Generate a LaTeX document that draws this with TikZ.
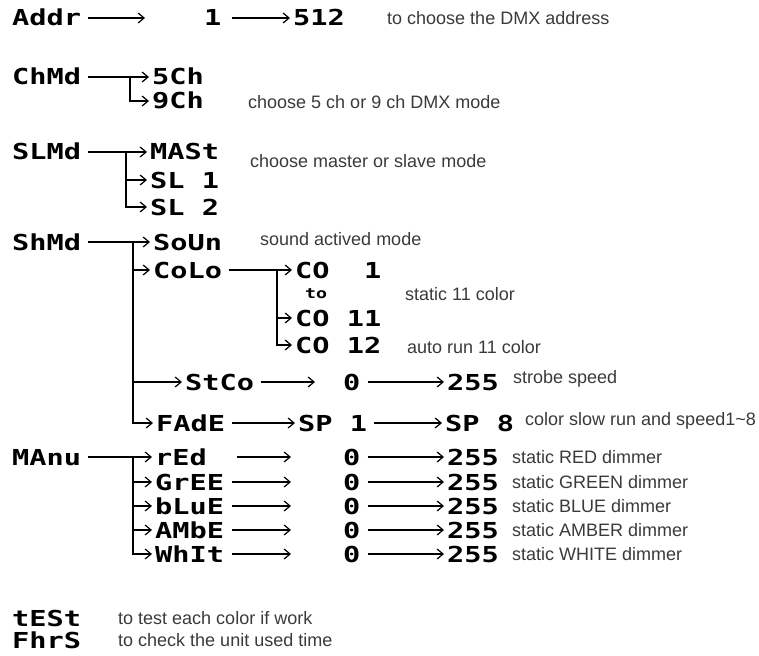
\documentclass[tikz,border=0pt]{standalone}
\usepackage{fontspec}
\setmainfont{Liberation Sans}
\newfontfamily\segfont[FakeStretch=1.3]{DejaVu Sans Mono}
\usetikzlibrary{arrows.meta}
\definecolor{descgray}{HTML}{3A3A3A}
\begin{document}
\begin{tikzpicture}[x=1pt,y=-1pt,
  seg/.style={font=\segfont\bfseries\fontsize{22}{22}\selectfont, inner sep=0pt, text height=16pt, text depth=0pt, anchor=west},
  small/.style={font=\segfont\bfseries\fontsize{14}{14}\selectfont, inner sep=0pt, anchor=west},
  desc/.style={font=\fontsize{18}{18}\selectfont, text=descgray, inner sep=0pt, anchor=west},
  arr/.style={-{Straight Barb[length=6pt,width=10pt]}, line width=1.2pt, shorten <=7pt, shorten >=3pt},
  arrb/.style={arr, shorten <=0pt}]
\useasboundingbox (0,0) rectangle (759,655);

% Addr
\node[seg] (addr) at (12,18) {Addr};
\coordinate (addrin) at (148,18);
\node[seg] (a1) at (204,18) {1};
\node[seg] (a512) at (293,18) {512};
\node[desc] (addrtxt) at (387,18) {to choose the DMX address};
\draw[arr] (addr.east) -- (addrin);
\draw[arr, shorten <=10pt] (a1.east) -- (a512.west);

% ChMd
\node[seg] (chmd) at (12,77) {ChMd};
\node[seg] (c5) at (152,77) {5Ch};
\node[seg] (c9) at (152,101) {9Ch};
\coordinate (chb) at (130,77);
\draw[arr] (chmd.east) -- (c5.west);
\draw[arrb] (chb) |- (c9.west);
\node[desc] (chtxt) at (248,102) {choose 5 ch or 9 ch DMX mode};

% SLMd
\node[seg] (slmd) at (12,152) {SLMd};
\node[seg] (mast) at (150,152) {MASt};
\node[seg] (sl1) at (150,180) {SL\hphantom{0}1};
\node[seg] (sl2) at (150,207) {SL\hphantom{0}2};
\coordinate (slb) at (126,152);
\draw[arr] (slmd.east) -- (mast.west);
\draw[arrb] (slb) |- (sl1.west);
\draw[arrb] (slb) |- (sl2.west);
\node[desc] (sltxt) at (250,161) {choose master or slave mode};

% ShMd
\node[seg] (shmd) at (12,242) {ShMd};
\node[seg] (soun) at (153,242) {SoUn};
\coordinate (shb) at (133,242);
\draw[arr] (shmd.east) -- (soun.west);
\node[desc] (sotxt) at (260,239) {sound actived mode};

\node[seg] (colo) at (153,270) {CoLo};
\draw[arrb] (shb) |- (colo.west);
\node[seg] (co1) at (295,270) {CO\hphantom{00}1};
\draw[arr] (colo.east) -- (co1.west);
\coordinate (cob) at (277,270);
\node[small] (to) at (305,294) {to};
\node[desc] (statxt) at (405,294) {static 11 color};
\node[seg] (co11) at (295,318) {CO\hphantom{0}11};
\node[seg] (co12) at (295,345) {CO\hphantom{0}12};
\draw[arrb] (cob) |- (co11.west);
\draw[arrb] (cob) |- (co12.west);
\node[desc] (autotxt) at (407,347) {auto run 11 color};

\node[seg] (stco) at (185,382) {StCo};
\draw[arrb] (shb) |- (stco.west);
\coordinate (stin) at (318,382);
\node[seg] (st0) at (343,382) {0};
\node[seg] (st255) at (447,382) {255};
\draw[arr] (stco.east) -- (stin);
\draw[arr] (st0.east) -- (st255.west);
\node[desc] (sttxt) at (513,379) {strobe speed};

\node[seg] (fade) at (156,423) {FAdE};
\draw[arrb] (shb) |- (fade.west);
\node[seg] (sp1) at (298,423) {SP\hphantom{0}1};
\node[seg] (sp8) at (445,423) {SP\hphantom{0}8};
\draw[arr] (fade.east) -- (sp1.west);
\draw[arr] (sp1.east) -- (sp8.west);
\node[desc] (fatxt) at (525,421) {color slow run and speed1\textasciitilde 8};

% MAnu
\node[seg] (manu) at (12,457) {MAnu};
\coordinate (mab) at (133,457);
\foreach \nm/\lab/\yy/\txt/\sh in {red/rEd/457/RED/30, gree/GrEE/482/GREEN/8, blue/bLuE/506/BLUE/8, ambe/AMbE/530/AMBER/8, whit/WhIt/554/WHITE/8}{
  \node[seg] (\nm) at (155,\yy) {\lab};
  \coordinate (\nm in) at (294,\yy);
  \node[seg] (\nm0) at (343,\yy) {0};
  \node[seg] (\nm255) at (447,\yy) {255};
  \draw[arr, shorten <=\sh pt] (\nm.east) -- (\nm in);
  \draw[arr] (\nm0.east) -- (\nm255.west);
  \node[desc] (\nm txt) at (512,\yy) {static \txt\ dimmer};
}
\draw[arr] (manu.east) -- (red.west);
\foreach \nm in {gree,blue,ambe,whit}{
  \draw[arrb] (mab) |- (\nm.west);
}

% tESt, FhrS
\node[seg] (test) at (12,618) {tESt};
\node[desc] (testtxt) at (118,618) {to test each color if work};
\node[seg] (fhrs) at (12,640) {FhrS};
\node[desc] (fhrstxt) at (118,640) {to check the unit used time};
\end{tikzpicture}
\end{document}
